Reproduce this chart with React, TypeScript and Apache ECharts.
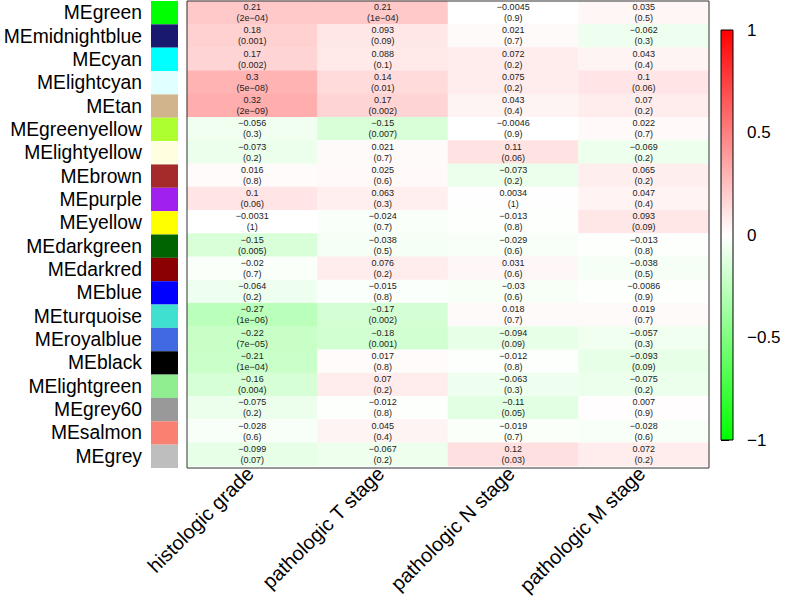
import React, { useEffect, useRef } from "react";
import * as echarts from "echarts";

const modules = [
  "MEgreen", "MEmidnightblue", "MEcyan", "MElightcyan", "MEtan",
  "MEgreenyellow", "MElightyellow", "MEbrown", "MEpurple", "MEyellow",
  "MEdarkgreen", "MEdarkred", "MEblue", "MEturquoise", "MEroyalblue",
  "MEblack", "MElightgreen", "MEgrey60", "MEsalmon", "MEgrey",
];
const moduleColors = [
  "#00FF00", "#191970", "#00FFFF", "#E0FFFF", "#D2B48C",
  "#ADFF2F", "#FFFFE0", "#A52A2A", "#A020F0", "#FFFF00",
  "#006400", "#8B0000", "#0000FF", "#40E0D0", "#4169E1",
  "#000000", "#90EE90", "#999999", "#FA8072", "#BEBEBE",
];
const traits = ["histologic grade", "pathologic T stage", "pathologic N stage", "pathologic M stage"];

const corHistologicGrade = [0.21, 0.18, 0.17, 0.3, 0.32, -0.056, -0.073, 0.016, 0.1, -0.0031, -0.15, -0.02, -0.064, -0.27, -0.22, -0.21, -0.16, -0.075, -0.028, -0.099];
const pHistologicGrade = ["2e-04", "0.001", "0.002", "5e-08", "2e-09", "0.3", "0.2", "0.8", "0.06", "1", "0.005", "0.7", "0.2", "1e-06", "7e-05", "1e-04", "0.004", "0.2", "0.6", "0.07"];
const corTStage = [0.21, 0.093, 0.088, 0.14, 0.17, -0.15, 0.021, 0.025, 0.063, -0.024, -0.038, 0.076, -0.015, -0.17, -0.18, 0.017, 0.07, -0.012, 0.045, -0.067];
const pTStage = ["1e-04", "0.09", "0.1", "0.01", "0.002", "0.007", "0.7", "0.6", "0.3", "0.7", "0.5", "0.2", "0.8", "0.002", "0.001", "0.8", "0.2", "0.8", "0.4", "0.2"];
const corNStage = [-0.0045, 0.021, 0.072, 0.075, 0.043, -0.0046, 0.11, -0.073, 0.0034, -0.013, -0.029, 0.031, -0.03, 0.018, -0.094, -0.012, -0.063, -0.11, -0.019, 0.12];
const pNStage = ["0.9", "0.7", "0.2", "0.2", "0.4", "0.9", "0.06", "0.2", "1", "0.8", "0.6", "0.6", "0.6", "0.7", "0.09", "0.8", "0.3", "0.05", "0.7", "0.03"];
const corMStage = [0.035, -0.062, 0.043, 0.1, 0.07, 0.022, -0.069, 0.065, 0.047, 0.093, -0.013, -0.038, -0.0086, 0.019, -0.057, -0.093, -0.075, 0.007, -0.028, 0.072];
const pMStage = ["0.5", "0.3", "0.4", "0.06", "0.2", "0.7", "0.2", "0.2", "0.4", "0.09", "0.8", "0.5", "0.9", "0.7", "0.3", "0.09", "0.2", "0.9", "0.6", "0.2"];

const colorbarTicks = [-1, -0.5, 0, 0.5, 1];

const FONT = "'Liberation Sans', Arial, Helvetica, sans-serif";
const minus = (s: string) => s.replace(/-/g, "\u2212");

export default function App() {
  const ref = useRef<HTMLDivElement>(null);
  useEffect(() => {
    if (!ref.current) return;
    const chart = echarts.init(ref.current, undefined, { renderer: "svg" });
    const cors = [corHistologicGrade, corTStage, corNStage, corMStage];
    const ps = [pHistologicGrade, pTStage, pNStage, pMStage];
    const data: any[] = [];
    cors.forEach((col, ti) => {
      col.forEach((v, mi) => {
        data.push([ti, mi, v, ps[ti][mi]]);
      });
    });
    const grid0 = { left: 187, top: 1, width: 522, height: 467 };
    chart.setOption({
      animation: false,
      textStyle: { fontFamily: FONT },
      grid: [
        { ...grid0 },
        { left: 151, top: 1, width: 27, height: 467 },
        { left: 721, top: 30, width: 12, height: 410 },
      ],
      xAxis: [
        {
          gridIndex: 0,
          type: "category",
          data: traits,
          axisLine: { show: false },
          axisTick: { show: false },
          splitLine: { show: false },
          axisLabel: {
            rotate: 45,
            fontSize: 20,
            color: "#000",
            margin: 2,
            padding: [0, 3, 0, 0],
            fontFamily: FONT,
            interval: 0,
          },
        },
        { gridIndex: 1, type: "value", min: 0, max: 1, show: false },
        { gridIndex: 2, type: "value", show: false, min: 0, max: 1 },
      ],
      yAxis: [
        {
          gridIndex: 0,
          type: "category",
          data: modules,
          inverse: true,
          axisLine: { show: false },
          axisTick: { show: false },
          axisLabel: { show: false },
          splitLine: { show: false },
        },
        {
          gridIndex: 1,
          type: "category",
          data: modules,
          inverse: true,
          axisLine: { show: false },
          axisTick: { show: false },
          splitLine: { show: false },
          axisLabel: { fontSize: 19.3, color: "#000", margin: 9, fontFamily: FONT, interval: 0 },
        },
        {
          gridIndex: 2,
          type: "value",
          position: "right",
          min: colorbarTicks[0],
          max: colorbarTicks[colorbarTicks.length - 1],
          interval: 0.5,
          axisLine: { show: false },
          axisTick: { show: true, length: 8, lineStyle: { color: "#000", width: 1 } },
          splitLine: { show: false },
          axisLabel: {
            fontSize: 17,
            color: "#000",
            margin: 14,
            fontFamily: FONT,
            formatter: (v: number) => minus(String(v)),
          },
        },
      ],
      visualMap: {
        show: false,
        type: "continuous",
        seriesIndex: 0,
        dimension: 2,
        min: -1,
        max: 1,
        inRange: { color: ["#00FF00", "#FFFFFF", "#FF0000"] },
      },
      series: [
        {
          type: "heatmap",
          xAxisIndex: 0,
          yAxisIndex: 0,
          data,
          label: {
            show: true,
            fontSize: 9,
            lineHeight: 11,
            color: "#222",
            fontFamily: FONT,
            formatter: (p: any) => minus(String(p.data[2])) + "\n(" + minus(String(p.data[3])) + ")",
          },
          emphasis: { disabled: true },
        },
        {
          type: "bar",
          xAxisIndex: 1,
          yAxisIndex: 1,
          barWidth: "100%",
          barCategoryGap: 0,
          data: modules.map((m, i) => ({ value: 1, itemStyle: { color: moduleColors[i] } })),
          emphasis: { disabled: true },
        },
        {
          type: "scatter",
          xAxisIndex: 2,
          yAxisIndex: 2,
          data: [],
        },
      ],
      graphic: [
        {
          type: "rect",
          z: 100,
          shape: { x: grid0.left, y: grid0.top, width: grid0.width, height: grid0.height },
          style: { fill: "none", stroke: "#333", lineWidth: 1 },
        },
        {
          type: "rect",
          z: 100,
          shape: { x: 721, y: 30, width: 12, height: 410 },
          style: {
            fill: new echarts.graphic.LinearGradient(0, 0, 0, 1, [
              { offset: 0, color: "#FF0000" },
              { offset: 0.5, color: "#FFFFFF" },
              { offset: 1, color: "#00FF00" },
            ]),
            stroke: "#000",
            lineWidth: 1,
          },
        },
      ],
    });
    return () => chart.dispose();
  }, []);
  return (
    <div
      ref={ref}
      style={{ position: "absolute", left: 0, top: 0, width: 788, height: 598, background: "#fff" }}
    />
  );
}
